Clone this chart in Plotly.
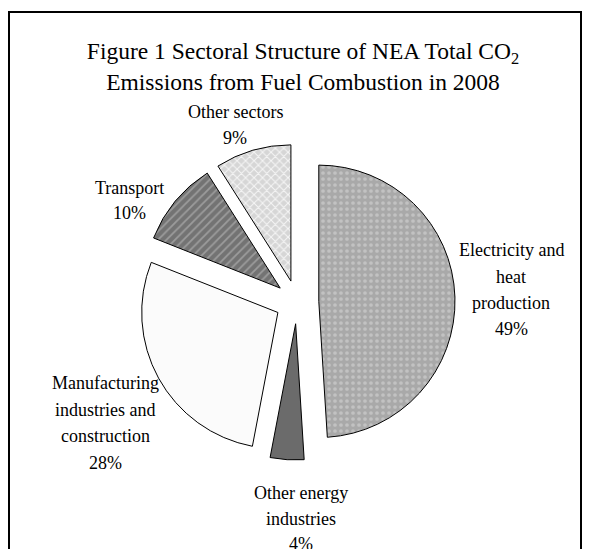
import plotly.graph_objects as go

# sectors, clockwise from 12 o'clock
sectors = ["Electricity and<br>heat<br>production", "Other energy<br>industries",
           "Manufacturing<br>industries and<br>construction", "Transport", "Other sectors"]
shares = [49, 4, 28, 10, 9]

fills = ["#a9a9a9", "#6b6b6b", "#fbfbfb", "#737373", "#d6d6d6"]
shapes_ = [".", "", "", "/", "x"]
pattern_fg = ["#c2c2c2", "#6b6b6b", "#fbfbfb", "#9c9c9c", "#f6f6f6"]

# page body adds an 8px margin, so positions below are shifted back by it
OFF = 8
# label placement (pixels in the screenshot: centre x, first-line y, line step)
label_pos = [(511, 250, 26.5), (301, 493, 25.5), (105, 383, 26.5), (129, 188, 25), (235, 112, 26)]

W, H = 592, 549
cx, cy, half = 297 - OFF, 302 - OFF, 158


def px(x):
    return (x - OFF) / W


def py(y):
    return 1 - (y - OFF) / H


fig = go.Figure(go.Pie(
    labels=sectors,
    values=shares,
    sort=False,
    direction="clockwise",
    rotation=0,
    pull=0.16,
    marker=dict(
        colors=fills,
        line=dict(color="#000000", width=1),
        pattern=dict(shape=shapes_, fgcolor=pattern_fg, bgcolor=fills,
                     fillmode="replace", size=6, solidity=0.3),
    ),
    textinfo="none",
    hoverinfo="skip",
    showlegend=False,
    domain=dict(x=[(cx - half) / W, (cx + half) / W],
                y=[1 - (cy + half) / H, 1 - (cy - half) / H]),
))

total = sum(shares)
annotations = []
for name, val, (lx, ly, step) in zip(sectors, shares, label_pos):
    lines = name.split("<br>") + [f"{round(100 * val / total)}%"]
    for i, line in enumerate(lines):
        annotations.append(dict(
            text=line, x=px(lx), y=py(ly + i * step),
            xref="paper", yref="paper", xanchor="center", yanchor="middle",
            showarrow=False,
            font=dict(family="Liberation Serif", size=18, color="#000000"),
        ))

fig.update_layout(
    width=W, height=H,
    margin=dict(l=0, r=0, t=0, b=0),
    paper_bgcolor="white",
    plot_bgcolor="white",
    title=dict(
        text="Figure 1 Sectoral Structure of NEA Total CO<sub>2</sub><br>Emissions from Fuel Combustion in 2008",
        x=px(303), xanchor="center", y=py(59), yanchor="middle",
        font=dict(family="Liberation Serif", size=23.5, color="#000000"),
    ),
    annotations=annotations,
    shapes=[dict(type="rect", xref="paper", yref="paper",
                 x0=px(9), x1=px(581), y0=-0.05, y1=py(12),
                 line=dict(color="#000000", width=2))],
)

fig.write_html("out.html")
